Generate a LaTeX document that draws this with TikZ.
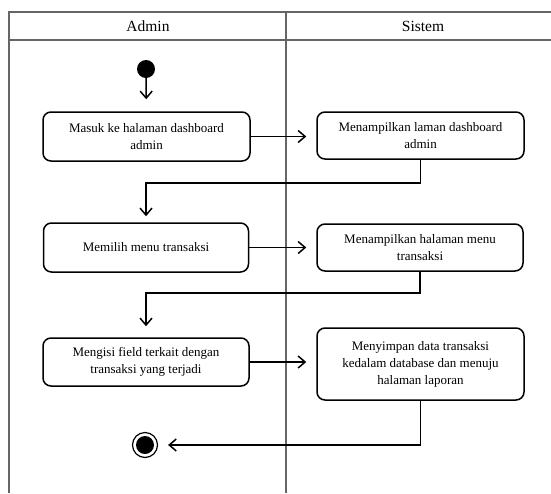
\documentclass[tikz,border=0pt]{standalone}
\usepackage{fontspec}
\setmainfont{Liberation Serif}
\usetikzlibrary{arrows.meta}
\begin{document}
\begin{tikzpicture}[x=1pt,y=-1pt,
  lane/.style={draw=black!60, line width=1.1pt},
  action/.style={draw=black, line width=1.5pt, rounded corners=8pt,
    align=center, inner sep=0pt,
    font=\fontsize{13}{17}\selectfont},
  header/.style={font=\fontsize{15.5}{18}\selectfont},
  flow/.style={draw=black, line width=1.5pt,
    -{Straight Barb[length=7pt,width=12pt,line width=1.5pt]}}
]
\useasboundingbox (0,0) rectangle (551,493);

% swimlane frame
\draw[lane] (9,493) -- (9,12) -- (551,12);
\draw[lane] (9,40) -- (551,40);
\draw[lane] (286,12) -- (286,493);
\node[header] (hAdmin) at (148,26) {Admin};
\node[header] (hSistem) at (423,26) {Sistem};

% start and end
\node[circle, fill=black, minimum size=18pt, inner sep=0pt] (start) at (146,69) {};
\node[circle, draw=black, line width=1.2pt, minimum size=25pt, inner sep=0pt] (end) at (145,445) {};
\fill[black] (end.center) circle (9pt);

% actions
\node[action, minimum width=207pt, minimum height=49pt] (a1) at (146.5,136.5)
  {Masuk ke halaman dashboard\\admin};
\node[action, minimum width=207pt, minimum height=47pt] (s1) at (420.5,135.5)
  {Menampilkan laman dashboard\\admin};
\node[action, minimum width=205pt, minimum height=49pt] (a2) at (146,247.5)
  {Memilih menu transaksi};
\node[action, minimum width=206pt, minimum height=47pt] (s2) at (420,247.5)
  {Menampilkan halaman menu\\transaksi};
\node[action, minimum width=206pt, minimum height=48pt] (a3) at (146,362)
  {Mengisi field terkait dengan\\transaksi yang terjadi};
\node[action, minimum width=207pt, minimum height=72pt] (s3) at (420.5,364)
  {Menyimpan data transaksi\\kedalam database dan menuju\\halaman laporan};

% bends of the connectors
\coordinate (j1) at (146,183);
\coordinate (j2) at (146,293);

% flows
\draw[flow, shorten >=12pt] (start) -- (a1);
\draw[flow, shorten >=10pt] (a1.east) -- (a1.east -| s1.west);
\draw[flow, shorten >=6pt] (s1.south) |- (j1) -- (a2.north);
\draw[flow, shorten >=10pt] (a2.east) -- (a2.east -| s2.west);
\draw[flow, shorten >=11pt] (s2.south) |- (j2) -- (a3.north);
\draw[flow, shorten >=10pt] (a3.east) -- (a3.east -| s3.west);
\draw[flow, shorten >=10pt] (s3.south) |- (end.east);
\end{tikzpicture}
\end{document}
